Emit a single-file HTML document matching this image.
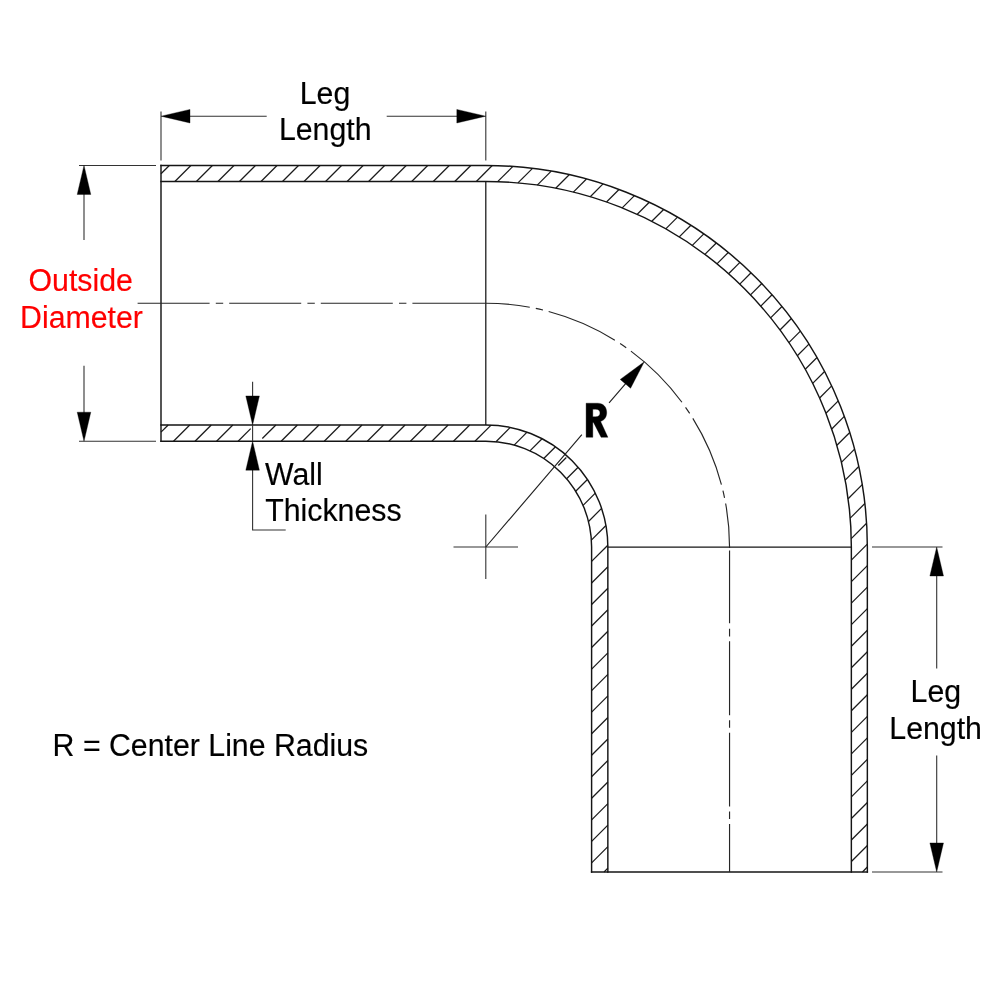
<!DOCTYPE html>
<html lang="en">
<head>
<meta charset="utf-8">
<title>90 Degree Elbow Dimensions</title>
<style>
html,body{margin:0;padding:0;background:#fff;}
body{width:1000px;height:1000px;overflow:hidden;font-family:"Liberation Sans",sans-serif;}
svg{display:block;position:absolute;left:0;top:0;will-change:transform;}
text{font-family:"Liberation Sans",sans-serif;}
</style>
</head>
<body>
<svg width="1000" height="1000" viewBox="0 0 1000 1000">
<rect x="0" y="0" width="1000" height="1000" fill="#ffffff"/>
<g stroke="#1a1a1a" stroke-width="1.25" fill="none" stroke-linecap="butt">
<line x1="161" y1="173.77" x2="169.32" y2="165.45"/>
<line x1="174.85" y1="181.45" x2="190.85" y2="165.45"/>
<line x1="196.38" y1="181.45" x2="212.38" y2="165.45"/>
<line x1="217.92" y1="181.45" x2="233.92" y2="165.45"/>
<line x1="239.45" y1="181.45" x2="255.45" y2="165.45"/>
<line x1="260.98" y1="181.45" x2="276.98" y2="165.45"/>
<line x1="282.52" y1="181.45" x2="298.52" y2="165.45"/>
<line x1="304.05" y1="181.45" x2="320.05" y2="165.45"/>
<line x1="325.58" y1="181.45" x2="341.58" y2="165.45"/>
<line x1="347.11" y1="181.45" x2="363.11" y2="165.45"/>
<line x1="368.65" y1="181.45" x2="384.65" y2="165.45"/>
<line x1="390.18" y1="181.45" x2="406.18" y2="165.45"/>
<line x1="161" y1="432.16" x2="168.21" y2="424.95"/>
<line x1="411.71" y1="181.45" x2="427.71" y2="165.45"/>
<line x1="173.5" y1="441.2" x2="189.75" y2="424.95"/>
<line x1="433.25" y1="181.45" x2="449.25" y2="165.45"/>
<line x1="195.03" y1="441.2" x2="211.28" y2="424.95"/>
<line x1="454.78" y1="181.45" x2="470.78" y2="165.45"/>
<line x1="216.56" y1="441.2" x2="232.81" y2="424.95"/>
<line x1="476.31" y1="181.45" x2="492.26" y2="165.51"/>
<line x1="238.1" y1="441.2" x2="250.7" y2="428.6"/>
<line x1="497.65" y1="181.65" x2="512.88" y2="166.42"/>
<line x1="262.3" y1="438.53" x2="275.88" y2="424.95"/>
<line x1="517.96" y1="182.87" x2="532.51" y2="168.32"/>
<line x1="281.16" y1="441.2" x2="297.41" y2="424.95"/>
<line x1="537.27" y1="185.1" x2="551.25" y2="171.11"/>
<line x1="302.69" y1="441.2" x2="318.94" y2="424.95"/>
<line x1="555.7" y1="188.2" x2="569.2" y2="174.69"/>
<line x1="324.23" y1="441.2" x2="340.48" y2="424.95"/>
<line x1="573.33" y1="192.09" x2="586.45" y2="178.98"/>
<line x1="345.76" y1="441.2" x2="362.01" y2="424.95"/>
<line x1="590.25" y1="196.71" x2="603.04" y2="183.92"/>
<line x1="367.29" y1="441.2" x2="383.54" y2="424.95"/>
<line x1="606.52" y1="201.97" x2="619.02" y2="189.48"/>
<line x1="388.83" y1="441.2" x2="405.08" y2="424.95"/>
<line x1="622.18" y1="207.85" x2="634.43" y2="195.59"/>
<line x1="410.36" y1="441.2" x2="426.61" y2="424.95"/>
<line x1="637.25" y1="214.31" x2="649.29" y2="202.27"/>
<line x1="431.89" y1="441.2" x2="448.14" y2="424.95"/>
<line x1="651.78" y1="221.31" x2="663.65" y2="209.45"/>
<line x1="453.43" y1="441.2" x2="469.68" y2="424.95"/>
<line x1="665.78" y1="228.84" x2="677.51" y2="217.12"/>
<line x1="474.96" y1="441.2" x2="491.09" y2="425.07"/>
<line x1="679.29" y1="236.86" x2="690.89" y2="225.27"/>
<line x1="495.99" y1="441.7" x2="510.26" y2="427.43"/>
<line x1="692.31" y1="245.38" x2="703.81" y2="233.88"/>
<line x1="514.15" y1="445.07" x2="527.08" y2="432.15"/>
<line x1="704.86" y1="254.37" x2="716.28" y2="242.94"/>
<line x1="529.92" y1="450.84" x2="542.06" y2="438.7"/>
<line x1="716.94" y1="263.82" x2="728.31" y2="252.45"/>
<line x1="543.78" y1="458.51" x2="555.49" y2="446.8"/>
<line x1="728.57" y1="273.72" x2="739.9" y2="262.39"/>
<line x1="558.29" y1="465.54" x2="566.3" y2="457.53"/>
<line x1="739.76" y1="284.07" x2="751.07" y2="272.75"/>
<line x1="566.62" y1="478.73" x2="578.15" y2="467.21"/>
<line x1="750.48" y1="294.88" x2="761.79" y2="283.56"/>
<line x1="575.69" y1="491.2" x2="587.44" y2="479.45"/>
<line x1="760.76" y1="306.13" x2="772.09" y2="294.8"/>
<line x1="583.06" y1="505.36" x2="595.31" y2="493.11"/>
<line x1="770.59" y1="317.83" x2="781.97" y2="306.45"/>
<line x1="588.48" y1="521.48" x2="601.57" y2="508.38"/>
<line x1="779.96" y1="330" x2="791.39" y2="318.56"/>
<line x1="591.37" y1="540.12" x2="605.95" y2="525.54"/>
<line x1="788.87" y1="342.61" x2="800.38" y2="331.11"/>
<line x1="591.6" y1="561.42" x2="607.83" y2="545.19"/>
<line x1="797.3" y1="355.72" x2="808.92" y2="344.1"/>
<line x1="591.6" y1="582.95" x2="607.85" y2="566.7"/>
<line x1="805.25" y1="369.3" x2="816.99" y2="357.56"/>
<line x1="591.6" y1="604.49" x2="607.85" y2="588.24"/>
<line x1="812.68" y1="383.4" x2="824.58" y2="371.51"/>
<line x1="591.6" y1="626.02" x2="607.85" y2="609.77"/>
<line x1="819.61" y1="398.01" x2="831.69" y2="385.93"/>
<line x1="591.6" y1="647.55" x2="607.85" y2="631.3"/>
<line x1="825.96" y1="413.19" x2="838.25" y2="400.9"/>
<line x1="591.6" y1="669.09" x2="607.85" y2="652.84"/>
<line x1="831.75" y1="428.94" x2="844.3" y2="416.39"/>
<line x1="591.6" y1="690.62" x2="607.85" y2="674.37"/>
<line x1="836.91" y1="445.31" x2="849.74" y2="432.48"/>
<line x1="591.6" y1="712.15" x2="607.85" y2="695.9"/>
<line x1="841.4" y1="462.35" x2="854.59" y2="449.17"/>
<line x1="591.6" y1="733.69" x2="607.85" y2="717.44"/>
<line x1="845.17" y1="480.12" x2="858.76" y2="466.53"/>
<line x1="591.6" y1="755.22" x2="607.85" y2="738.97"/>
<line x1="848.13" y1="498.69" x2="862.2" y2="484.62"/>
<line x1="591.6" y1="776.75" x2="607.85" y2="760.5"/>
<line x1="850.2" y1="518.15" x2="864.85" y2="503.5"/>
<line x1="591.6" y1="798.28" x2="607.85" y2="782.03"/>
<line x1="851.24" y1="538.64" x2="866.6" y2="523.29"/>
<line x1="591.6" y1="819.82" x2="607.85" y2="803.57"/>
<line x1="851.35" y1="560.07" x2="867.32" y2="544.09"/>
<line x1="591.6" y1="841.35" x2="607.85" y2="825.1"/>
<line x1="851.35" y1="581.6" x2="867.35" y2="565.6"/>
<line x1="591.6" y1="862.88" x2="607.85" y2="846.63"/>
<line x1="851.35" y1="603.13" x2="867.35" y2="587.13"/>
<line x1="604.07" y1="871.95" x2="607.85" y2="868.17"/>
<line x1="851.35" y1="624.67" x2="867.35" y2="608.67"/>
<line x1="851.35" y1="646.2" x2="867.35" y2="630.2"/>
<line x1="851.35" y1="667.73" x2="867.35" y2="651.73"/>
<line x1="851.35" y1="689.26" x2="867.35" y2="673.26"/>
<line x1="851.35" y1="710.8" x2="867.35" y2="694.8"/>
<line x1="851.35" y1="732.33" x2="867.35" y2="716.33"/>
<line x1="851.35" y1="753.86" x2="867.35" y2="737.86"/>
<line x1="851.35" y1="775.4" x2="867.35" y2="759.4"/>
<line x1="851.35" y1="796.93" x2="867.35" y2="780.93"/>
<line x1="851.35" y1="818.46" x2="867.35" y2="802.46"/>
<line x1="851.35" y1="840" x2="867.35" y2="824"/>
<line x1="851.35" y1="861.53" x2="867.35" y2="845.53"/>
<line x1="862.46" y1="871.95" x2="867.35" y2="867.06"/>
</g>
<g stroke="#151515" stroke-width="1.45" fill="none" stroke-linecap="square" stroke-linejoin="miter">
<path d="M161 165.45H485.8A381.55 381.55 0 0 1 867.35 547V871.95M851.35 871.95V547A365.55 365.55 0 0 0 485.8 181.45H161"/>
<path d="M161 424.95H485.8A122.05 122.05 0 0 1 607.85 547V871.95M591.6 871.95V547A105.8 105.8 0 0 0 485.8 441.2H161"/>
<path d="M161 165.45V441.2"/>
<path d="M591.6 871.95H867.35"/>
</g>
<g stroke="#151515" stroke-width="1.25" fill="none">
<path d="M485.8 181.45V424.95"/>
<path d="M607.85 547H851.35"/>
</g>
<g stroke="#262626" stroke-width="1.15" fill="none">
<path d="M137.6 303.25H485.8" stroke-dasharray="72 6.2 7.4 6 72 6.2 7.4 6 72 6.2 7.4 6 90"/>
<path d="M485.8 303.25A243.75 243.75 0 0 1 729.55 547" stroke-dasharray="72.4 6.2 7.4 5.8" stroke-dashoffset="28.2"/>
<path d="M729.55 547V871.95" stroke-dasharray="1 2.6 72.6 5.6 7.6 4.9 74 5 7.5 4.9 73.8 5 7.6 5 60"/>
</g>
<g stroke="#333333" stroke-width="1.1" fill="none">
<path d="M161 111.5V160.5M485.8 111.5V160.5"/>
<path d="M189 116.2H266.7M386.7 116.2H457.8"/>
<path d="M79 165.45H156M79 441.2H156"/>
<path d="M84 193.45V240M84 365.8V413.2"/>
<path d="M252.6 381.8V396.95M252.6 469.2V530H285.7"/>
<path d="M252.6 424.95V441.2"/>
<path d="M872 547H942.5M872 871.95H942.5"/>
<path d="M936.7 575V668.5M936.7 755.6V843.95"/>
<path d="M453.5 547H518M485.8 514.5V579"/>
</g>
<g stroke="#222" stroke-width="1.15" fill="none">
<path d="M485.8 547L581.86 434.73M609.06 402.94L626.06 383.06"/>
</g>
<g fill="#000" stroke="#000" stroke-width="0.35" stroke-linejoin="miter" stroke-miterlimit="10">
<path d="M161 116.2L190 123L190 109.4Z"/>
<path d="M485.8 116.2L456.8 109.4L456.8 123Z"/>
<path d="M84 165.45L77.2 194.45L90.8 194.45Z"/>
<path d="M84 441.2L90.8 412.2L77.2 412.2Z"/>
<path d="M252.6 424.95L259.4 395.95L245.8 395.95Z"/>
<path d="M252.6 441.2L245.8 470.2L259.4 470.2Z"/>
<path d="M936.7 547L929.9 576L943.5 576Z"/>
<path d="M936.7 871.95L943.5 842.95L929.9 842.95Z"/>
<path d="M644.26 361.79L620.24 379.4L630.58 388.25Z"/>
<path fill-rule="evenodd" d="M586.1 403.2H597.6C603.6 403.2 606.7 407.2 606.7 412.6C606.7 417 604.6 420.2 600.6 421.4L607.9 437.3H601.1L593.5 422.4H592.8V437.3H586.1ZM592.8 409.2V416.8H595.6C598.6 416.8 600 415.4 600 413C600 410.6 598.6 409.2 595.6 409.2Z"/>
</g>
<g font-family="'Liberation Sans', sans-serif" font-size="30.3" fill="#000" stroke="#000" stroke-width="0.16">
<text transform="translate(325 104) scale(1 1.01)" x="0" y="0" text-anchor="middle">Leg</text>
<text transform="translate(325.2 140.3) scale(1 1.01)" x="0" y="0" text-anchor="middle">Length</text>
<text transform="translate(80.7 291.3) scale(1 1.01)" x="0" y="0" text-anchor="middle" fill="#ff0000" stroke="#ff0000">Outside</text>
<text transform="translate(81.5 327.8) scale(1 1.01)" x="0" y="0" text-anchor="middle" fill="#ff0000" stroke="#ff0000">Diameter</text>
<text transform="translate(265 484.7) scale(1 1.01)" x="0" y="0">Wall</text>
<text transform="translate(265.2 521.1) scale(1 1.01)" x="0" y="0">Thickness</text>
<text transform="translate(935.8 702) scale(1 1.01)" x="0" y="0" text-anchor="middle">Leg</text>
<text transform="translate(935.6 738.5) scale(1 1.01)" x="0" y="0" text-anchor="middle">Length</text>
<text transform="translate(52.6 755.6) scale(1 1.01)" x="0" y="0">R = Center Line Radius</text>
</g>
</svg>
</body>
</html>
